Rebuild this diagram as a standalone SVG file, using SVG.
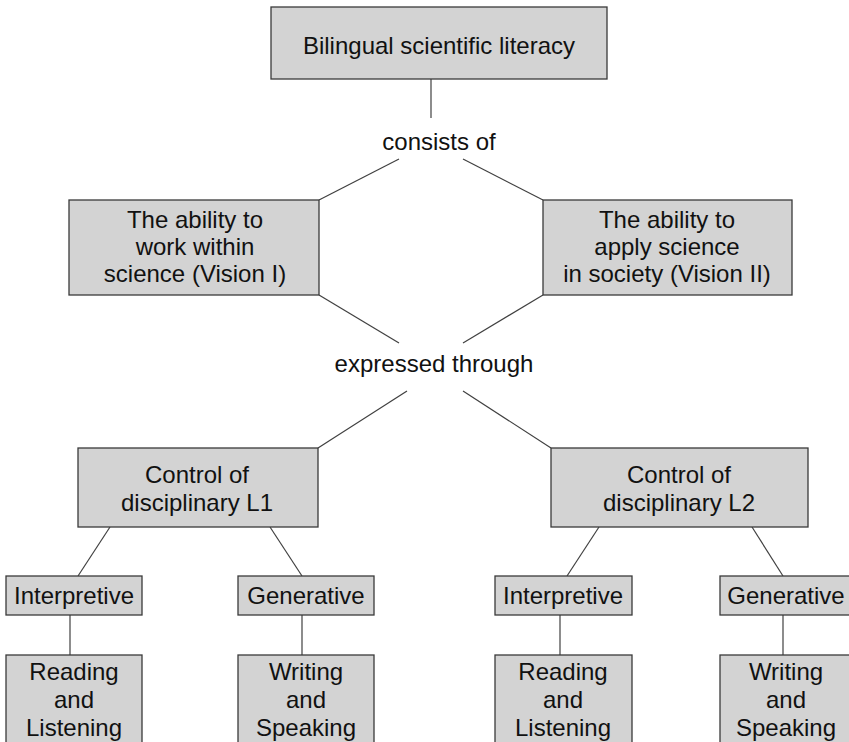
<svg xmlns="http://www.w3.org/2000/svg" width="849" height="742" viewBox="0 0 849 742">
  <style>
    .box { fill: #d3d3d3; stroke: #3a3a3a; stroke-width: 1.3; }
    .lbl { font-family: "Liberation Sans", Arial, sans-serif; font-size: 24px; fill: #111; text-anchor: middle; }
    .edge { stroke: #404040; stroke-width: 1.2; fill: none; }
  </style>
  <rect width="849" height="742" fill="#ffffff"/>

  <!-- connectors -->
  <g id="connectors">
    <line class="edge" x1="431" y1="79" x2="431" y2="118"/>
    <line class="edge" x1="399" y1="159" x2="319" y2="200"/>
    <line class="edge" x1="463" y1="159" x2="543" y2="200"/>
    <line class="edge" x1="319" y1="295" x2="399" y2="343"/>
    <line class="edge" x1="543" y1="295" x2="463" y2="343"/>
    <line class="edge" x1="407" y1="391" x2="318" y2="448"/>
    <line class="edge" x1="463" y1="391" x2="551" y2="448"/>
    <line class="edge" x1="110" y1="527" x2="78" y2="576"/>
    <line class="edge" x1="270" y1="527" x2="302" y2="576"/>
    <line class="edge" x1="599" y1="527" x2="567" y2="576"/>
    <line class="edge" x1="752" y1="527" x2="783" y2="576"/>
    <line class="edge" x1="70" y1="615" x2="70" y2="655"/>
    <line class="edge" x1="302" y1="615" x2="302" y2="655"/>
    <line class="edge" x1="560" y1="615" x2="560" y2="655"/>
    <line class="edge" x1="783" y1="615" x2="783" y2="655"/>
  </g>

  <!-- link labels -->
  <g id="label-consists">
    <text class="lbl" x="439" y="150">consists of</text>
  </g>
  <g id="label-expressed">
    <text class="lbl" x="434" y="372">expressed through</text>
  </g>

  <!-- nodes -->
  <g id="node-bsl">
    <rect class="box" x="271" y="7" width="336" height="72"/>
    <text class="lbl" x="439" y="54">Bilingual scientific literacy</text>
  </g>

  <g id="node-vision1">
    <rect class="box" x="69" y="200" width="250" height="95"/>
    <text class="lbl" x="195" y="228">The ability to</text>
    <text class="lbl" x="195" y="255">work within</text>
    <text class="lbl" x="195" y="282">science (Vision I)</text>
  </g>

  <g id="node-vision2">
    <rect class="box" x="543" y="200" width="249" height="95"/>
    <text class="lbl" x="667" y="228">The ability to</text>
    <text class="lbl" x="667" y="255">apply science</text>
    <text class="lbl" x="667" y="282">in society (Vision II)</text>
  </g>

  <g id="node-l1">
    <rect class="box" x="78" y="448" width="240" height="79"/>
    <text class="lbl" x="197" y="483">Control of</text>
    <text class="lbl" x="197" y="511">disciplinary L1</text>
  </g>

  <g id="node-l2">
    <rect class="box" x="551" y="448" width="257" height="79"/>
    <text class="lbl" x="679" y="483">Control of</text>
    <text class="lbl" x="679" y="511">disciplinary L2</text>
  </g>

  <g id="node-l1-interpretive">
    <rect class="box" x="6" y="576" width="136" height="39"/>
    <text class="lbl" x="74" y="604">Interpretive</text>
  </g>

  <g id="node-l1-generative">
    <rect class="box" x="238" y="576" width="136" height="39"/>
    <text class="lbl" x="306" y="604">Generative</text>
  </g>

  <g id="node-l2-interpretive">
    <rect class="box" x="495" y="576" width="137" height="39"/>
    <text class="lbl" x="563" y="604">Interpretive</text>
  </g>

  <g id="node-l2-generative">
    <rect class="box" x="720" y="576" width="134" height="39"/>
    <text class="lbl" x="786" y="604">Generative</text>
  </g>

  <g id="node-l1-reading">
    <rect class="box" x="6" y="655" width="136" height="100"/>
    <text class="lbl" x="74" y="680">Reading</text>
    <text class="lbl" x="74" y="708">and</text>
    <text class="lbl" x="74" y="736">Listening</text>
  </g>

  <g id="node-l1-writing">
    <rect class="box" x="238" y="655" width="136" height="100"/>
    <text class="lbl" x="306" y="680">Writing</text>
    <text class="lbl" x="306" y="708">and</text>
    <text class="lbl" x="306" y="736">Speaking</text>
  </g>

  <g id="node-l2-reading">
    <rect class="box" x="495" y="655" width="137" height="100"/>
    <text class="lbl" x="563" y="680">Reading</text>
    <text class="lbl" x="563" y="708">and</text>
    <text class="lbl" x="563" y="736">Listening</text>
  </g>

  <g id="node-l2-writing">
    <rect class="box" x="720" y="655" width="134" height="100"/>
    <text class="lbl" x="786" y="680">Writing</text>
    <text class="lbl" x="786" y="708">and</text>
    <text class="lbl" x="786" y="736">Speaking</text>
  </g>
</svg>
